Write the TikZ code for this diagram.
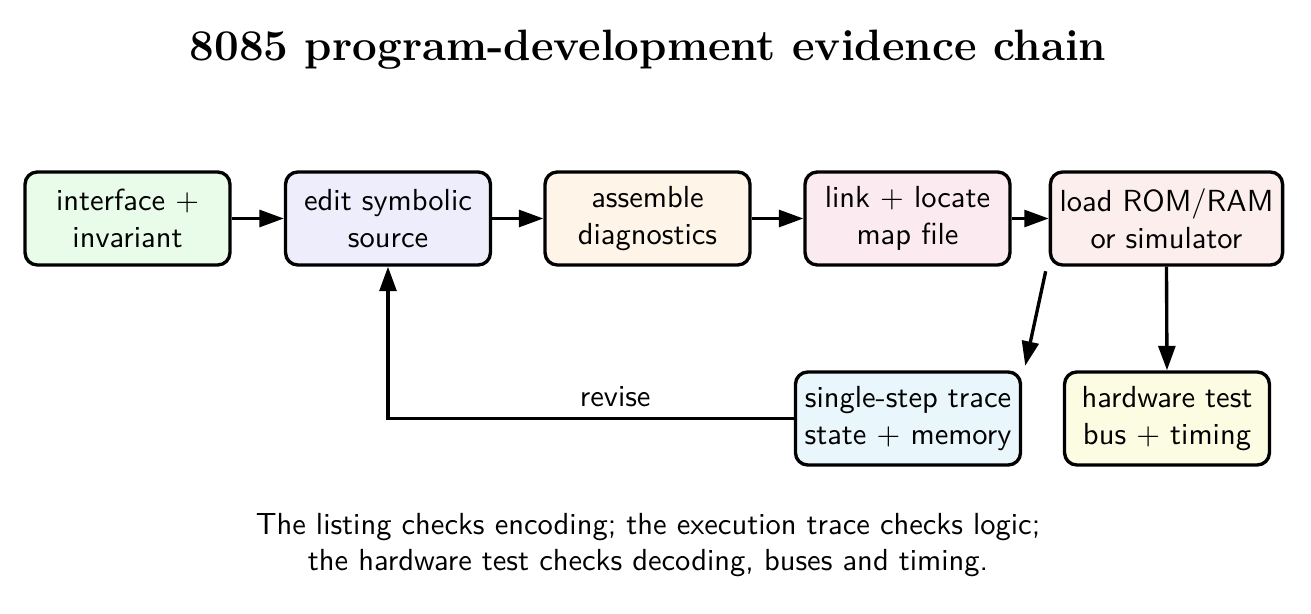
\documentclass[tikz,border=0pt]{standalone}
\usetikzlibrary{arrows.meta}
\definecolor{cA}{HTML}{E9FCE9}
\definecolor{cB}{HTML}{EDEDFC}
\definecolor{cC}{HTML}{FEF4E8}
\definecolor{cD}{HTML}{FBEBF1}
\definecolor{cE}{HTML}{FDEEEE}
\definecolor{cF}{HTML}{E9F6FC}
\definecolor{cG}{HTML}{FCFCE2}
\tikzset{
  box/.style={draw, line width=1.1pt, rounded corners=4pt, minimum width=67.2pt, minimum height=30.5pt, align=center, font=\sffamily, inner sep=3pt},
  conn/.style={line width=1.1pt, -{Triangle[length=8pt,width=5.5pt]}},
}
\begin{document}
\begin{tikzpicture}[x=0.328pt,y=-0.328pt]
\useasboundingbox (0,0) rectangle (1311,614);
\node[font=\Large\bfseries] (title) at (648,50) {8085 program-development evidence chain};
\node[box, fill=cA] (iface) at (127.5,218.5) {interface +\\invariant};
\node[box, fill=cB] (edit) at (388,218.5) {edit symbolic\\source};
\node[box, fill=cC] (asm) at (647.5,218.5) {assemble\\diagnostics};
\node[box, fill=cD] (link) at (907.5,218.5) {link + locate\\map file};
\node[box, fill=cE] (load) at (1166.5,218.5) {load ROM/RAM\\or simulator};
\node[box, fill=cF] (trace) at (908,418.5) {single-step trace\\state + memory};
\node[box, fill=cG] (hw) at (1167,418.5) {hardware test\\bus + timing};
\draw[conn] (iface) -- (edit);
\draw[conn] (edit) -- (asm);
\draw[conn] (asm) -- (link);
\draw[conn] (link) -- (load);
\draw[conn] ([xshift=-1pt,yshift=-1.5pt]load.south west) -- ([xshift=1pt,yshift=1.5pt]trace.north east);
\draw[conn] (load.south) -- (hw.north);
\draw[conn] (trace.west) -| node[pos=0.22, above, font=\sffamily] {revise} (edit.south);
\node[font=\sffamily, align=center] (cap) at (648,545) {The listing checks encoding; the execution trace checks logic;\\the hardware test checks decoding, buses and timing.};
\end{tikzpicture}
\end{document}
